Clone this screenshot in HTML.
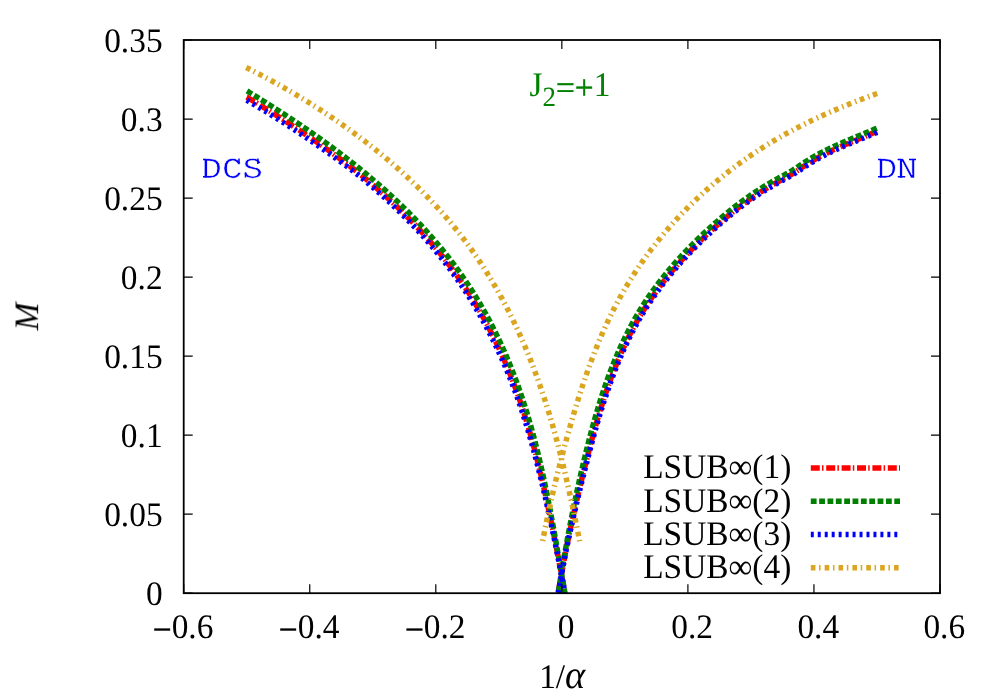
<!DOCTYPE html>
<html><head><meta charset="utf-8"><title>M vs 1/alpha</title>
<style>
html,body{margin:0;padding:0;background:#fff;}
body{width:1000px;height:700px;overflow:hidden;}
svg{display:block;font-family:"Liberation Serif",serif;text-rendering:geometricPrecision;}
</style></head><body>
<svg width="1000" height="700" viewBox="0 0 1000 700">
<rect width="1000" height="700" fill="#fff"/>
<g fill="none" stroke-width="5.5" stroke-linecap="butt" stroke-linejoin="round">
<path d="M246.70,97.10 L246.73,97.11 L247.99,97.87 L249.25,98.62 L250.51,99.38 L251.77,100.14 L253.03,100.90 L254.29,101.67 L255.55,102.43 L256.81,103.20 L258.07,103.97 L259.33,104.74 L260.59,105.51 L261.85,106.28 L263.10,107.06 L264.36,107.83 L265.62,108.61 L266.88,109.39 L268.14,110.17 L269.40,110.96 L270.65,111.74 L271.91,112.53 L273.17,113.32 L274.42,114.11 L275.68,114.90 L276.94,115.69 L278.19,116.49 L279.44,117.29 L280.70,118.09 L281.95,118.89 L283.20,119.69 L284.46,120.50 L285.71,121.30 L286.96,122.11 L288.21,122.92 L289.46,123.73 L290.71,124.55 L291.96,125.36 L293.20,126.18 L294.45,127.00 L295.69,127.82 L296.94,128.65 L298.18,129.47 L299.43,130.30 L300.67,131.13 L301.91,131.96 L303.15,132.80 L304.39,133.63 L305.63,134.47 L306.87,135.31 L308.10,136.15 L309.34,136.99 L310.57,137.84 L311.80,138.69 L313.04,139.54 L314.27,140.39 L315.50,141.24 L316.73,142.10 L317.95,142.96 L319.18,143.82 L320.40,144.68 L321.63,145.54 L322.86,146.40 L324.08,147.26 L325.30,148.13 L326.53,148.99 L327.75,149.86 L328.97,150.73 L330.18,151.61 L331.40,152.48 L332.62,153.36 L333.83,154.24 L335.04,155.12 L336.25,156.01 L337.46,156.89 L338.67,157.78 L339.87,158.67 L341.08,159.57 L342.28,160.46 L343.48,161.36 L344.68,162.26 L345.88,163.16 L347.07,164.07 L348.27,164.97 L349.46,165.88 L350.65,166.80 L351.84,167.71 L353.02,168.63 L354.21,169.54 L355.39,170.46 L356.57,171.39 L357.75,172.31 L358.93,173.24 L360.10,174.17 L361.26,175.12 L362.42,176.08 L363.57,177.03 L364.72,177.99 L365.87,178.95 L367.02,179.91 L368.17,180.87 L369.31,181.84 L370.45,182.81 L371.59,183.78 L372.72,184.76 L373.86,185.73 L374.99,186.71 L376.12,187.69 L377.24,188.68 L378.37,189.66 L379.49,190.65 L380.61,191.64 L381.73,192.64 L382.84,193.64 L383.95,194.63 L385.06,195.64 L386.17,196.64 L387.27,197.65 L388.37,198.66 L389.47,199.67 L390.56,200.68 L391.66,201.70 L392.75,202.72 L393.83,203.74 L394.92,204.77 L396.00,205.80 L397.08,206.83 L398.15,207.86 L399.23,208.90 L400.29,209.93 L401.36,210.98 L402.43,212.02 L403.49,213.07 L404.54,214.11 L405.60,215.17 L406.65,216.22 L407.70,217.28 L408.74,218.34 L409.79,219.40 L410.82,220.47 L411.86,221.54 L412.89,222.61 L413.92,223.68 L414.95,224.76 L415.97,225.84 L416.99,226.92 L418.01,228.00 L419.02,229.09 L420.03,230.18 L421.03,231.27 L422.04,232.37 L423.04,233.47 L424.03,234.57 L425.02,235.68 L426.01,236.78 L427.00,237.89 L427.98,239.01 L428.96,240.12 L429.93,241.24 L430.90,242.37 L431.87,243.49 L432.83,244.62 L433.79,245.75 L434.75,246.88 L435.70,248.02 L436.65,249.16 L437.59,250.30 L438.53,251.45 L439.47,252.60 L440.40,253.75 L441.33,254.90 L442.26,256.06 L443.18,257.22 L444.09,258.39 L445.01,259.55 L445.92,260.72 L446.82,261.90 L447.72,263.07 L448.62,264.25 L449.51,265.43 L450.40,266.62 L451.29,267.81 L452.17,269.00 L453.05,270.19 L453.92,271.39 L454.79,272.59 L455.66,273.79 L456.52,274.99 L457.38,276.20 L458.24,277.41 L459.09,278.62 L459.94,279.83 L460.78,281.05 L461.62,282.27 L462.46,283.49 L463.29,284.72 L464.11,285.95 L464.94,287.18 L465.75,288.42 L466.57,289.65 L467.38,290.89 L468.18,292.14 L468.98,293.38 L469.78,294.63 L470.57,295.89 L471.36,297.14 L472.14,298.40 L472.92,299.66 L473.70,300.92 L474.47,302.19 L475.23,303.46 L475.99,304.73 L476.75,306.00 L477.50,307.28 L478.25,308.56 L478.99,309.84 L479.73,311.12 L480.47,312.41 L481.20,313.70 L481.92,315.00 L482.64,316.29 L483.36,317.59 L484.07,318.89 L484.78,320.19 L485.48,321.50 L486.18,322.81 L486.88,324.12 L487.57,325.43 L488.26,326.75 L488.94,328.07 L489.62,329.39 L490.29,330.71 L490.96,332.04 L491.64,333.36 L492.31,334.69 L492.98,336.01 L493.64,337.34 L494.30,338.68 L494.96,340.01 L495.61,341.35 L496.26,342.69 L496.90,344.03 L497.54,345.37 L498.17,346.72 L498.80,348.06 L499.43,349.41 L500.05,350.77 L500.67,352.12 L501.29,353.48 L501.90,354.84 L502.50,356.20 L503.11,357.56 L503.71,358.92 L504.30,360.29 L504.89,361.66 L505.48,363.03 L506.06,364.40 L506.64,365.78 L507.22,367.15 L507.79,368.53 L508.36,369.91 L508.92,371.29 L509.48,372.67 L510.04,374.06 L510.59,375.45 L511.14,376.84 L511.69,378.23 L512.23,379.62 L512.76,381.01 L513.30,382.41 L513.83,383.80 L514.36,385.20 L514.88,386.60 L515.40,388.00 L515.91,389.40 L516.43,390.81 L516.94,392.21 L517.44,393.62 L517.94,395.03 L518.44,396.44 L518.93,397.85 L519.43,399.26 L519.91,400.68 L520.40,402.09 L520.88,403.51 L521.35,404.93 L521.83,406.35 L522.30,407.77 L522.76,409.19 L523.22,410.61 L523.68,412.03 L524.14,413.46 L524.59,414.89 L525.04,416.31 L525.49,417.74 L525.93,419.17 L526.37,420.60 L526.81,422.04 L527.24,423.47 L527.67,424.90 L528.10,426.34 L528.52,427.77 L528.94,429.21 L529.36,430.65 L529.78,432.09 L530.19,433.53 L530.60,434.97 L531.00,436.41 L531.41,437.86 L531.81,439.30 L532.21,440.75 L532.60,442.19 L532.99,443.64 L533.38,445.09 L533.77,446.54 L534.16,447.99 L534.54,449.44 L534.92,450.89 L535.29,452.34 L535.67,453.79 L536.04,455.25 L536.41,456.70 L536.78,458.16 L537.14,459.61 L537.51,461.07 L537.88,462.52 L538.24,463.98 L538.60,465.44 L538.96,466.89 L539.32,468.35 L539.68,469.81 L540.03,471.27 L540.39,472.73 L540.74,474.19 L541.08,475.65 L541.43,477.11 L541.77,478.57 L542.12,480.04 L542.46,481.50 L542.80,482.96 L543.13,484.43 L543.47,485.89 L543.80,487.36 L544.13,488.82 L544.46,490.29 L544.79,491.75 L545.12,493.22 L545.44,494.69 L545.76,496.15 L546.08,497.62 L546.40,499.09 L546.72,500.56 L547.04,502.02 L547.36,503.49 L547.67,504.96 L547.98,506.43 L548.29,507.90 L548.60,509.37 L548.91,510.84 L549.22,512.31 L549.53,513.78 L549.84,515.25 L550.15,516.72 L550.45,518.18 L550.76,519.65 L551.06,521.12 L551.36,522.59 L551.66,524.06 L551.97,525.53 L552.26,527.00 L552.56,528.47 L552.86,529.94 L553.16,531.41 L553.45,532.88 L553.75,534.35 L554.04,535.82 L554.34,537.29 L554.63,538.76 L554.92,540.23 L555.21,541.70 L555.50,543.17 L555.79,544.63 L556.08,546.10 L556.37,547.57 L556.66,549.04 L556.95,550.51 L557.22,551.98 L557.50,553.44 L557.78,554.91 L558.05,556.38 L558.33,557.85 L558.61,559.32 L558.88,560.78 L559.16,562.25 L559.43,563.72 L559.71,565.18 L559.98,566.65 L560.26,568.11 L560.53,569.58 L560.81,571.04 L561.08,572.50 L561.36,573.97 L561.63,575.43 L561.91,576.89 L562.18,578.35 L562.46,579.81 L562.73,581.27 L563.01,582.73 L563.28,584.19 L563.56,585.65 L563.84,587.10 L564.11,588.56 L564.39,590.02 L564.67,591.47 L564.95,592.93" stroke="#ff0000" stroke-dasharray="9 2.2 1.5 2.7"/>
<path d="M877.00,131.28 L876.59,131.46 L875.20,132.07 L873.81,132.67 L872.42,133.26 L871.03,133.85 L869.64,134.44 L868.25,135.02 L866.86,135.60 L865.47,136.18 L864.08,136.76 L862.69,137.33 L861.30,137.90 L859.92,138.48 L858.53,139.05 L857.14,139.62 L855.76,140.19 L854.37,140.76 L852.99,141.34 L851.61,141.91 L850.23,142.49 L848.85,143.07 L847.47,143.65 L846.09,144.23 L844.72,144.82 L843.35,145.41 L841.98,146.01 L840.61,146.61 L839.25,147.21 L837.88,147.82 L836.52,148.44 L835.16,149.06 L833.81,149.69 L832.45,150.32 L831.11,150.96 L829.76,151.61 L828.42,152.26 L827.08,152.92 L825.75,153.59 L824.42,154.26 L823.10,154.95 L821.78,155.64 L820.47,156.33 L819.16,157.04 L817.87,157.75 L816.57,158.47 L815.29,159.20 L814.01,159.94 L812.74,160.69 L811.48,161.44 L810.23,162.21 L808.99,162.98 L807.75,163.76 L806.52,164.56 L805.30,165.36 L804.07,166.17 L802.85,166.99 L801.62,167.81 L800.39,168.64 L799.15,169.46 L797.91,170.28 L796.65,171.10 L795.39,171.90 L794.12,172.70 L792.83,173.49 L791.53,174.26 L790.23,175.01 L788.92,175.75 L787.62,176.48 L786.31,177.20 L785.00,177.92 L783.69,178.64 L782.38,179.36 L781.07,180.08 L779.75,180.80 L778.44,181.52 L777.13,182.24 L775.82,182.97 L774.52,183.70 L773.22,184.43 L771.92,185.17 L770.63,185.92 L769.35,186.67 L768.07,187.43 L766.80,188.19 L765.53,188.96 L764.26,189.74 L763.00,190.52 L761.75,191.31 L760.49,192.11 L759.25,192.91 L758.00,193.72 L756.76,194.53 L755.53,195.35 L754.30,196.18 L753.07,197.01 L751.85,197.85 L750.63,198.69 L749.42,199.54 L748.21,200.39 L747.01,201.25 L745.80,202.12 L744.61,202.99 L743.41,203.87 L742.22,204.75 L741.04,205.64 L739.86,206.53 L738.68,207.43 L737.50,208.34 L736.33,209.25 L735.17,210.16 L734.00,211.08 L732.84,212.00 L731.68,212.93 L730.53,213.87 L729.38,214.81 L728.23,215.75 L727.09,216.70 L725.94,217.65 L724.81,218.61 L723.67,219.57 L722.54,220.53 L721.41,221.50 L720.28,222.48 L719.16,223.46 L718.04,224.44 L716.92,225.42 L715.81,226.42 L714.69,227.41 L713.58,228.41 L712.48,229.41 L711.37,230.42 L710.27,231.43 L709.17,232.44 L708.07,233.46 L706.98,234.48 L705.89,235.51 L704.80,236.53 L703.71,237.57 L702.63,238.60 L701.55,239.64 L700.48,240.68 L699.40,241.73 L698.33,242.78 L697.27,243.83 L696.21,244.89 L695.15,245.95 L694.09,247.02 L693.04,248.09 L691.99,249.16 L690.95,250.23 L689.90,251.31 L688.87,252.39 L687.83,253.48 L686.81,254.57 L685.78,255.66 L684.76,256.76 L683.74,257.86 L682.73,258.97 L681.72,260.07 L680.71,261.19 L679.71,262.30 L678.72,263.42 L677.73,264.54 L676.74,265.67 L675.75,266.80 L674.78,267.93 L673.80,269.07 L672.83,270.21 L671.87,271.35 L670.91,272.50 L669.96,273.65 L669.01,274.80 L668.06,275.96 L667.12,277.12 L666.19,278.29 L665.26,279.45 L664.33,280.63 L663.41,281.80 L662.50,282.98 L661.59,284.16 L660.69,285.35 L659.79,286.54 L658.90,287.73 L658.01,288.93 L657.13,290.13 L656.26,291.33 L655.39,292.54 L654.52,293.75 L653.66,294.97 L652.81,296.18 L651.97,297.40 L651.13,298.63 L650.29,299.86 L649.46,301.09 L648.64,302.32 L647.82,303.56 L647.01,304.80 L646.20,306.04 L645.40,307.29 L644.60,308.54 L643.82,309.79 L643.03,311.05 L642.26,312.31 L641.49,313.58 L640.73,314.85 L639.97,316.12 L639.22,317.39 L638.48,318.67 L637.74,319.95 L637.01,321.24 L636.28,322.53 L635.56,323.82 L634.85,325.12 L634.14,326.42 L633.44,327.72 L632.74,329.03 L632.05,330.34 L631.36,331.65 L630.68,332.96 L630.01,334.28 L629.34,335.60 L628.68,336.93 L628.02,338.26 L627.37,339.59 L626.72,340.92 L626.08,342.26 L625.44,343.60 L624.81,344.94 L624.19,346.28 L623.57,347.63 L622.95,348.98 L622.34,350.33 L621.74,351.69 L621.14,353.05 L620.54,354.41 L619.95,355.77 L619.36,357.14 L618.78,358.51 L618.21,359.88 L617.64,361.25 L617.07,362.63 L616.51,364.01 L615.95,365.39 L615.40,366.77 L614.85,368.16 L614.31,369.54 L613.77,370.93 L613.23,372.32 L612.70,373.72 L612.17,375.11 L611.65,376.51 L611.13,377.91 L610.62,379.32 L610.11,380.72 L609.60,382.13 L609.10,383.53 L608.60,384.94 L608.11,386.35 L607.61,387.77 L607.12,389.18 L606.63,390.59 L606.14,392.01 L605.66,393.42 L605.18,394.84 L604.70,396.26 L604.23,397.69 L603.76,399.11 L603.29,400.53 L602.83,401.96 L602.37,403.39 L601.92,404.82 L601.46,406.25 L601.01,407.68 L600.57,409.11 L600.12,410.55 L599.68,411.99 L599.25,413.42 L598.81,414.86 L598.38,416.30 L597.96,417.74 L597.53,419.18 L597.11,420.62 L596.69,422.07 L596.27,423.51 L595.86,424.96 L595.45,426.40 L595.04,427.85 L594.63,429.30 L594.23,430.75 L593.83,432.19 L593.43,433.64 L593.03,435.10 L592.64,436.55 L592.25,438.00 L591.86,439.45 L591.47,440.90 L591.09,442.36 L590.70,443.81 L590.32,445.26 L589.94,446.72 L589.57,448.17 L589.19,449.63 L588.82,451.08 L588.45,452.54 L588.08,453.99 L587.71,455.45 L587.35,456.91 L586.98,458.36 L586.62,459.82 L586.25,461.27 L585.88,462.72 L585.51,464.18 L585.14,465.63 L584.77,467.08 L584.40,468.53 L584.03,469.99 L583.67,471.44 L583.31,472.89 L582.94,474.34 L582.58,475.80 L582.23,477.25 L581.87,478.70 L581.51,480.15 L581.16,481.61 L580.81,483.06 L580.46,484.51 L580.11,485.97 L579.76,487.42 L579.41,488.87 L579.07,490.33 L578.73,491.78 L578.38,493.24 L578.04,494.69 L577.70,496.14 L577.37,497.60 L577.03,499.05 L576.69,500.51 L576.36,501.97 L576.03,503.42 L575.70,504.88 L575.37,506.34 L575.04,507.79 L574.71,509.25 L574.38,510.71 L574.05,512.16 L573.73,513.62 L573.40,515.08 L573.07,516.54 L572.75,518.00 L572.43,519.45 L572.11,520.91 L571.79,522.37 L571.47,523.83 L571.15,525.30 L570.84,526.76 L570.52,528.22 L570.21,529.68 L569.89,531.14 L569.58,532.61 L569.27,534.07 L568.97,535.54 L568.66,537.00 L568.35,538.47 L568.05,539.93 L567.74,541.40 L567.44,542.87 L567.14,544.34 L566.84,545.81 L566.54,547.28 L566.24,548.75 L565.95,550.22 L565.66,551.69 L565.38,553.16 L565.10,554.64 L564.82,556.12 L564.54,557.59 L564.26,559.07 L563.98,560.55 L563.71,562.03 L563.43,563.51 L563.16,564.99 L562.89,566.47 L562.62,567.95 L562.35,569.43 L562.08,570.92 L561.81,572.40 L561.54,573.89 L561.27,575.37 L561.01,576.86 L560.75,578.35 L560.48,579.84 L560.22,581.33 L559.96,582.82 L559.70,584.31 L559.44,585.80 L559.18,587.29 L558.93,588.79 L558.67,590.28 L558.42,591.78 L558.16,593.28" stroke="#ff0000" stroke-dasharray="9 2.2 1.5 2.7"/>
<path d="M247.03,90.95 L248.29,91.72 L249.54,92.48 L250.80,93.25 L252.06,94.02 L253.32,94.79 L254.58,95.56 L255.84,96.34 L257.10,97.11 L258.35,97.89 L259.61,98.67 L260.87,99.45 L262.13,100.23 L263.39,101.02 L264.65,101.81 L265.90,102.59 L267.16,103.38 L268.42,104.17 L269.67,104.97 L270.93,105.76 L272.19,106.56 L273.44,107.36 L274.70,108.16 L275.95,108.96 L277.21,109.76 L278.46,110.57 L279.72,111.38 L280.97,112.19 L282.22,113.00 L283.48,113.81 L284.73,114.63 L285.98,115.44 L287.23,116.26 L288.48,117.08 L289.73,117.91 L290.98,118.73 L292.23,119.56 L293.48,120.38 L294.72,121.21 L295.97,122.05 L297.21,122.88 L298.46,123.72 L299.70,124.56 L300.94,125.40 L302.19,126.24 L303.43,127.08 L304.67,127.93 L305.91,128.78 L307.14,129.63 L308.38,130.48 L309.62,131.33 L310.85,132.19 L312.09,133.05 L313.32,133.91 L314.55,134.77 L315.78,135.63 L317.01,136.50 L318.24,137.37 L319.47,138.24 L320.69,139.11 L321.92,139.99 L323.14,140.87 L324.36,141.74 L325.58,142.63 L326.80,143.51 L328.02,144.40 L329.24,145.28 L330.45,146.17 L331.67,147.07 L332.88,147.96 L334.09,148.86 L335.30,149.76 L336.51,150.66 L337.71,151.56 L338.92,152.47 L340.12,153.37 L341.32,154.29 L342.52,155.20 L343.72,156.11 L344.92,157.03 L346.11,157.95 L347.30,158.87 L348.49,159.79 L349.68,160.72 L350.87,161.65 L352.06,162.58 L353.24,163.51 L354.42,164.45 L355.60,165.39 L356.78,166.33 L357.96,167.27 L359.13,168.22 L360.30,169.16 L361.47,170.11 L362.64,171.07 L363.80,172.02 L364.97,172.98 L366.13,173.94 L367.29,174.90 L368.45,175.87 L369.60,176.83 L370.75,177.80 L371.90,178.77 L373.05,179.75 L374.20,180.73 L375.34,181.71 L376.48,182.69 L377.62,183.67 L378.76,184.66 L379.89,185.65 L381.02,186.64 L382.15,187.64 L383.28,188.64 L384.40,189.64 L385.53,190.64 L386.65,191.64 L387.76,192.65 L388.88,193.66 L389.99,194.67 L391.10,195.69 L392.20,196.71 L393.31,197.73 L394.41,198.75 L395.50,199.78 L396.60,200.81 L397.69,201.84 L398.78,202.88 L399.87,203.91 L400.95,204.95 L402.03,206.00 L403.11,207.04 L404.18,208.09 L405.26,209.14 L406.33,210.19 L407.39,211.25 L408.45,212.31 L409.51,213.37 L410.57,214.44 L411.62,215.50 L412.68,216.57 L413.72,217.65 L414.77,218.72 L415.81,219.80 L416.85,220.88 L417.88,221.97 L418.91,223.05 L419.94,224.14 L420.96,225.24 L421.99,226.33 L423.00,227.43 L424.02,228.53 L425.03,229.64 L426.04,230.75 L427.04,231.86 L428.04,232.97 L429.04,234.09 L430.03,235.21 L431.02,236.33 L432.01,237.45 L432.99,238.58 L433.97,239.71 L434.95,240.85 L435.92,241.99 L436.89,243.13 L437.86,244.27 L438.82,245.42 L439.77,246.56 L440.73,247.72 L441.68,248.87 L442.62,250.03 L443.56,251.19 L444.50,252.36 L445.44,253.53 L446.37,254.70 L447.29,255.87 L448.22,257.05 L449.13,258.23 L450.05,259.41 L450.96,260.60 L451.86,261.79 L452.77,262.98 L453.67,264.18 L454.56,265.37 L455.45,266.58 L456.34,267.78 L457.22,268.99 L458.09,270.20 L458.97,271.41 L459.84,272.63 L460.70,273.85 L461.56,275.07 L462.42,276.30 L463.27,277.53 L464.12,278.76 L464.96,279.99 L465.80,281.23 L466.64,282.47 L467.47,283.71 L468.30,284.96 L469.12,286.21 L469.94,287.46 L470.75,288.72 L471.56,289.97 L472.37,291.23 L473.17,292.50 L473.96,293.76 L474.75,295.03 L475.54,296.30 L476.32,297.58 L477.10,298.86 L477.87,300.14 L478.64,301.42 L479.41,302.70 L480.17,303.99 L480.92,305.28 L481.67,306.58 L482.42,307.87 L483.16,309.17 L483.90,310.48 L484.63,311.78 L485.36,313.09 L486.09,314.40 L486.80,315.71 L487.52,317.02 L488.23,318.34 L488.94,319.66 L489.64,320.98 L490.34,322.31 L491.03,323.64 L491.72,324.97 L492.40,326.30 L493.08,327.63 L493.76,328.97 L494.43,330.31 L495.09,331.65 L495.76,332.99 L496.42,334.34 L497.07,335.69 L497.72,337.04 L498.37,338.39 L499.01,339.74 L499.64,341.10 L500.28,342.46 L500.91,343.82 L501.53,345.18 L502.15,346.55 L502.77,347.92 L503.38,349.29 L503.99,350.66 L504.59,352.03 L505.19,353.40 L505.79,354.78 L506.38,356.16 L506.97,357.54 L507.55,358.92 L508.13,360.31 L508.71,361.70 L509.28,363.08 L509.85,364.47 L510.41,365.87 L510.97,367.26 L511.53,368.65 L512.08,370.05 L512.62,371.45 L513.17,372.85 L513.71,374.25 L514.25,375.65 L514.78,377.06 L515.31,378.47 L515.83,379.87 L516.35,381.28 L516.87,382.69 L517.38,384.11 L517.89,385.52 L518.40,386.93 L518.90,388.35 L519.40,389.77 L519.89,391.19 L520.38,392.61 L520.87,394.03 L521.35,395.45 L521.83,396.88 L522.31,398.31 L522.78,399.73 L523.25,401.16 L523.71,402.59 L524.17,404.02 L524.63,405.45 L525.09,406.88 L525.54,408.32 L525.98,409.75 L526.43,411.19 L526.87,412.63 L527.31,414.07 L527.74,415.50 L528.17,416.94 L528.60,418.39 L529.02,419.83 L529.44,421.27 L529.86,422.72 L530.27,424.16 L530.68,425.61 L531.09,427.05 L531.49,428.50 L531.90,429.95 L532.29,431.40 L532.69,432.85 L533.08,434.30 L533.47,435.75 L533.86,437.21 L534.24,438.66 L534.63,440.12 L535.00,441.57 L535.38,443.03 L535.75,444.49 L536.12,445.94 L536.49,447.40 L536.85,448.86 L537.22,450.32 L537.58,451.78 L537.93,453.24 L538.29,454.70 L538.64,456.17 L538.99,457.63 L539.34,459.09 L539.68,460.56 L540.03,462.02 L540.37,463.49 L540.70,464.95 L541.04,466.42 L541.37,467.89 L541.70,469.35 L542.03,470.82 L542.36,472.29 L542.69,473.76 L543.01,475.23 L543.33,476.70 L543.65,478.17 L543.96,479.64 L544.28,481.11 L544.59,482.58 L544.90,484.05 L545.21,485.53 L545.52,487.00 L545.83,488.47 L546.13,489.94 L546.43,491.42 L546.73,492.89 L547.03,494.36 L547.33,495.84 L547.62,497.31 L547.92,498.79 L548.21,500.26 L548.50,501.74 L548.79,503.21 L549.08,504.69 L549.37,506.16 L549.65,507.64 L549.94,509.11 L550.22,510.59 L550.50,512.06 L550.78,513.54 L551.06,515.02 L551.34,516.49 L551.62,517.97 L551.89,519.44 L552.17,520.92 L552.44,522.39 L552.71,523.87 L552.98,525.35 L553.25,526.82 L553.52,528.30 L553.79,529.77 L554.06,531.25 L554.33,532.72 L554.59,534.20 L554.86,535.67 L555.12,537.15 L555.39,538.62 L555.65,540.10 L555.91,541.57 L556.17,543.05 L556.44,544.52 L556.70,545.99 L556.96,547.47 L557.22,548.94 L557.48,550.41 L557.74,551.89 L558.00,553.36 L558.25,554.83 L558.51,556.30 L558.77,557.77 L559.03,559.24 L559.28,560.71 L559.54,562.18 L559.80,563.65 L560.05,565.12 L560.31,566.59 L560.57,568.06 L560.82,569.52 L561.08,570.99 L561.34,572.46 L561.59,573.92 L561.85,575.39 L562.11,576.85 L562.37,578.32 L562.62,579.78 L562.88,581.24 L563.14,582.71 L563.40,584.17 L563.65,585.63 L563.91,587.09 L564.17,588.55 L564.43,590.01 L564.69,591.47 L564.95,592.93" stroke="#008000" stroke-dasharray="5.8 2.55"/>
<path d="M876.80,128.18 L875.42,128.78 L874.04,129.38 L872.66,129.98 L871.27,130.57 L869.89,131.16 L868.51,131.74 L867.12,132.32 L865.73,132.90 L864.35,133.48 L862.96,134.05 L861.58,134.63 L860.19,135.20 L858.80,135.77 L857.41,136.34 L856.03,136.92 L854.64,137.49 L853.25,138.06 L851.87,138.64 L850.48,139.21 L849.10,139.79 L847.71,140.37 L846.33,140.96 L844.95,141.54 L843.57,142.13 L842.19,142.73 L840.81,143.33 L839.43,143.93 L838.06,144.54 L836.68,145.16 L835.31,145.78 L833.94,146.40 L832.57,147.04 L831.21,147.68 L829.84,148.32 L828.49,148.98 L827.13,149.64 L825.78,150.30 L824.43,150.98 L823.09,151.66 L821.75,152.35 L820.42,153.05 L819.09,153.76 L817.77,154.47 L816.45,155.19 L815.14,155.93 L813.84,156.67 L812.54,157.41 L811.25,158.17 L809.97,158.94 L808.70,159.72 L807.43,160.50 L806.17,161.30 L804.93,162.11 L803.69,162.92 L802.45,163.74 L801.22,164.56 L799.99,165.38 L798.76,166.20 L797.53,167.02 L796.30,167.83 L795.07,168.64 L793.83,169.43 L792.58,170.22 L791.32,170.98 L790.05,171.73 L788.78,172.47 L787.49,173.20 L786.20,173.92 L784.90,174.64 L783.60,175.36 L782.29,176.07 L780.98,176.79 L779.66,177.51 L778.35,178.23 L777.03,178.95 L775.71,179.68 L774.40,180.41 L773.09,181.15 L771.77,181.89 L770.47,182.64 L769.16,183.39 L767.87,184.15 L766.57,184.91 L765.29,185.69 L764.00,186.46 L762.72,187.25 L761.45,188.04 L760.18,188.84 L758.92,189.64 L757.66,190.45 L756.40,191.27 L755.15,192.09 L753.91,192.92 L752.66,193.75 L751.43,194.59 L750.19,195.44 L748.96,196.29 L747.74,197.14 L746.52,198.01 L745.30,198.87 L744.09,199.75 L742.88,200.63 L741.68,201.51 L740.47,202.40 L739.28,203.29 L738.08,204.19 L736.90,205.10 L735.71,206.01 L734.53,206.92 L733.35,207.84 L732.17,208.77 L731.00,209.70 L729.84,210.63 L728.67,211.57 L727.51,212.52 L726.35,213.47 L725.20,214.42 L724.05,215.38 L722.90,216.34 L721.76,217.31 L720.61,218.28 L719.48,219.25 L718.34,220.23 L717.21,221.21 L716.08,222.20 L714.95,223.19 L713.83,224.19 L712.71,225.19 L711.59,226.19 L710.47,227.20 L709.36,228.21 L708.25,229.22 L707.14,230.24 L706.03,231.26 L704.93,232.29 L703.83,233.32 L702.74,234.35 L701.64,235.39 L700.55,236.43 L699.46,237.47 L698.38,238.52 L697.30,239.57 L696.22,240.63 L695.15,241.69 L694.07,242.75 L693.01,243.82 L691.94,244.89 L690.88,245.96 L689.82,247.04 L688.77,248.12 L687.72,249.20 L686.67,250.29 L685.63,251.39 L684.59,252.48 L683.56,253.58 L682.53,254.68 L681.50,255.79 L680.48,256.90 L679.46,258.02 L678.44,259.13 L677.43,260.26 L676.43,261.38 L675.43,262.51 L674.43,263.64 L673.44,264.78 L672.45,265.92 L671.47,267.06 L670.49,268.21 L669.51,269.36 L668.54,270.52 L667.58,271.68 L666.62,272.84 L665.67,274.00 L664.72,275.17 L663.77,276.35 L662.83,277.52 L661.90,278.71 L660.97,279.89 L660.04,281.08 L659.12,282.27 L658.21,283.46 L657.30,284.66 L656.40,285.87 L655.50,287.07 L654.61,288.28 L653.73,289.50 L652.85,290.71 L651.97,291.93 L651.10,293.16 L650.24,294.39 L649.38,295.62 L648.53,296.85 L647.69,298.09 L646.85,299.33 L646.02,300.58 L645.19,301.83 L644.37,303.08 L643.56,304.34 L642.75,305.60 L641.95,306.87 L641.15,308.14 L640.37,309.41 L639.59,310.68 L638.81,311.96 L638.04,313.24 L637.28,314.53 L636.52,315.82 L635.77,317.11 L635.03,318.41 L634.29,319.71 L633.56,321.01 L632.84,322.32 L632.12,323.63 L631.41,324.94 L630.70,326.26 L630.00,327.58 L629.30,328.90 L628.61,330.22 L627.93,331.55 L627.25,332.88 L626.58,334.22 L625.91,335.56 L625.25,336.90 L624.59,338.24 L623.94,339.58 L623.30,340.93 L622.66,342.29 L622.03,343.64 L621.40,345.00 L620.77,346.36 L620.16,347.72 L619.54,349.08 L618.94,350.45 L618.33,351.82 L617.74,353.19 L617.14,354.57 L616.56,355.95 L615.97,357.33 L615.39,358.71 L614.82,360.09 L614.25,361.48 L613.69,362.87 L613.13,364.26 L612.58,365.65 L612.03,367.05 L611.48,368.45 L610.94,369.85 L610.40,371.25 L609.87,372.65 L609.34,374.06 L608.82,375.47 L608.30,376.88 L607.79,378.29 L607.28,379.70 L606.77,381.12 L606.27,382.53 L605.77,383.95 L605.27,385.37 L604.78,386.79 L604.30,388.22 L603.81,389.64 L603.34,391.07 L602.86,392.50 L602.39,393.93 L601.92,395.36 L601.46,396.79 L601.00,398.23 L600.54,399.66 L600.09,401.10 L599.64,402.54 L599.19,403.98 L598.75,405.42 L598.31,406.86 L597.87,408.30 L597.44,409.75 L597.00,411.19 L596.58,412.64 L596.15,414.08 L595.73,415.53 L595.31,416.98 L594.90,418.43 L594.49,419.88 L594.08,421.33 L593.67,422.79 L593.27,424.24 L592.86,425.69 L592.47,427.15 L592.07,428.60 L591.68,430.06 L591.29,431.52 L590.90,432.97 L590.51,434.43 L590.13,435.89 L589.75,437.35 L589.37,438.81 L588.99,440.26 L588.62,441.72 L588.24,443.18 L587.87,444.64 L587.51,446.11 L587.14,447.57 L586.78,449.03 L586.41,450.49 L586.05,451.95 L585.70,453.41 L585.34,454.87 L584.98,456.33 L584.63,457.79 L584.28,459.26 L583.93,460.72 L583.58,462.18 L583.24,463.64 L582.89,465.10 L582.55,466.56 L582.21,468.02 L581.86,469.48 L581.53,470.94 L581.19,472.40 L580.85,473.86 L580.52,475.32 L580.19,476.78 L579.86,478.25 L579.53,479.71 L579.20,481.17 L578.87,482.63 L578.55,484.09 L578.22,485.55 L577.90,487.01 L577.58,488.47 L577.26,489.93 L576.94,491.39 L576.63,492.86 L576.31,494.32 L576.00,495.78 L575.69,497.24 L575.38,498.70 L575.07,500.17 L574.76,501.63 L574.45,503.09 L574.15,504.56 L573.85,506.02 L573.54,507.48 L573.24,508.95 L572.94,510.41 L572.65,511.88 L572.35,513.34 L572.05,514.81 L571.76,516.27 L571.47,517.74 L571.18,519.21 L570.89,520.67 L570.60,522.14 L570.31,523.61 L570.03,525.08 L569.74,526.55 L569.46,528.01 L569.18,529.48 L568.89,530.95 L568.61,532.42 L568.34,533.89 L568.06,535.37 L567.78,536.84 L567.51,538.31 L567.24,539.78 L566.96,541.26 L566.69,542.73 L566.42,544.21 L566.16,545.68 L565.89,547.16 L565.62,548.63 L565.36,550.11 L565.09,551.59 L564.83,553.07 L564.57,554.55 L564.31,556.03 L564.05,557.51 L563.79,558.99 L563.54,560.47 L563.28,561.95 L563.03,563.44 L562.77,564.92 L562.52,566.41 L562.27,567.89 L562.02,569.38 L561.77,570.86 L561.52,572.35 L561.28,573.84 L561.03,575.33 L560.79,576.82 L560.54,578.31 L560.30,579.81 L560.06,581.30 L559.82,582.79 L559.58,584.29 L559.34,585.78 L559.10,587.28 L558.87,588.78 L558.63,590.28 L558.40,591.78 L558.16,593.28" stroke="#008000" stroke-dasharray="5.8 2.55"/>
<path d="M246.70,100.06 L247.92,100.79 L249.18,101.54 L250.44,102.29 L251.70,103.05 L252.96,103.81 L254.23,104.57 L255.49,105.33 L256.75,106.09 L258.01,106.85 L259.27,107.62 L260.53,108.39 L261.79,109.15 L263.05,109.93 L264.31,110.70 L265.57,111.47 L266.82,112.25 L268.08,113.02 L269.34,113.80 L270.60,114.58 L271.86,115.37 L273.11,116.15 L274.37,116.94 L275.63,117.72 L276.88,118.51 L278.14,119.30 L279.39,120.10 L280.64,120.89 L281.90,121.69 L283.15,122.49 L284.40,123.29 L285.65,124.09 L286.90,124.89 L288.15,125.70 L289.40,126.51 L290.65,127.32 L291.90,128.13 L293.15,128.94 L294.39,129.76 L295.64,130.57 L296.88,131.39 L298.13,132.21 L299.37,133.04 L300.61,133.86 L301.85,134.69 L303.09,135.52 L304.33,136.35 L305.57,137.18 L306.81,138.02 L308.04,138.85 L309.28,139.69 L310.51,140.53 L311.74,141.37 L312.98,142.22 L314.21,143.06 L315.43,143.91 L316.66,144.76 L317.89,145.62 L319.11,146.47 L320.34,147.32 L321.57,148.17 L322.80,149.03 L324.03,149.88 L325.25,150.74 L326.47,151.60 L327.69,152.46 L328.92,153.32 L330.13,154.19 L331.35,155.06 L332.57,155.93 L333.78,156.80 L335.00,157.67 L336.21,158.55 L337.42,159.43 L338.63,160.31 L339.83,161.19 L341.04,162.08 L342.24,162.97 L343.44,163.86 L344.64,164.75 L345.84,165.64 L347.04,166.54 L348.23,167.44 L349.43,168.34 L350.62,169.24 L351.81,170.15 L353.00,171.06 L354.18,171.97 L355.37,172.88 L356.55,173.80 L357.73,174.71 L358.91,175.63 L360.06,176.58 L361.21,177.53 L362.36,178.49 L363.51,179.44 L364.66,180.40 L365.80,181.36 L366.95,182.32 L368.09,183.28 L369.22,184.25 L370.36,185.22 L371.49,186.19 L372.62,187.16 L373.75,188.14 L374.88,189.12 L376.00,190.10 L377.12,191.09 L378.24,192.07 L379.35,193.06 L380.47,194.05 L381.58,195.05 L382.68,196.04 L383.79,197.04 L384.89,198.04 L385.99,199.05 L387.09,200.05 L388.18,201.06 L389.27,202.07 L390.36,203.09 L391.45,204.11 L392.53,205.13 L393.61,206.15 L394.69,207.17 L395.76,208.20 L396.84,209.23 L397.90,210.26 L398.97,211.30 L400.03,212.33 L401.09,213.37 L402.15,214.42 L403.20,215.46 L404.25,216.51 L405.30,217.56 L406.35,218.62 L407.39,219.67 L408.43,220.73 L409.46,221.79 L410.49,222.86 L411.52,223.93 L412.55,225.00 L413.57,226.07 L414.59,227.14 L415.60,228.22 L416.61,229.30 L417.62,230.39 L418.63,231.47 L419.63,232.56 L420.63,233.66 L421.62,234.75 L422.61,235.85 L423.60,236.95 L424.59,238.05 L425.57,239.16 L426.55,240.27 L427.52,241.38 L428.49,242.50 L429.46,243.61 L430.42,244.73 L431.38,245.86 L432.33,246.98 L433.28,248.11 L434.23,249.25 L435.18,250.38 L436.12,251.52 L437.05,252.66 L437.98,253.81 L438.91,254.95 L439.84,256.10 L440.76,257.26 L441.68,258.41 L442.59,259.57 L443.50,260.73 L444.40,261.90 L445.30,263.07 L446.20,264.24 L447.09,265.41 L447.98,266.59 L448.87,267.77 L449.75,268.95 L450.62,270.14 L451.50,271.33 L452.37,272.52 L453.23,273.71 L454.10,274.90 L454.96,276.10 L455.82,277.30 L456.67,278.50 L457.52,279.71 L458.37,280.92 L459.21,282.13 L460.05,283.34 L460.88,284.56 L461.71,285.78 L462.53,287.00 L463.35,288.23 L464.17,289.45 L464.98,290.69 L465.79,291.92 L466.59,293.16 L467.39,294.40 L468.19,295.64 L468.98,296.88 L469.76,298.13 L470.54,299.38 L471.32,300.64 L472.09,301.89 L472.86,303.15 L473.63,304.41 L474.39,305.68 L475.14,306.95 L475.89,308.22 L476.64,309.49 L477.38,310.76 L478.12,312.04 L478.85,313.32 L479.58,314.61 L480.30,315.89 L481.02,317.18 L481.74,318.48 L482.45,319.77 L483.16,321.07 L483.86,322.37 L484.56,323.67 L485.25,324.97 L485.94,326.28 L486.63,327.59 L487.31,328.90 L487.99,330.22 L488.66,331.53 L489.33,332.85 L490.01,334.17 L490.69,335.48 L491.36,336.80 L492.03,338.12 L492.69,339.45 L493.35,340.77 L494.01,342.10 L494.66,343.43 L495.31,344.76 L495.95,346.10 L496.59,347.44 L497.23,348.78 L497.86,350.12 L498.49,351.46 L499.11,352.81 L499.73,354.16 L500.35,355.51 L500.96,356.86 L501.57,358.22 L502.17,359.57 L502.77,360.93 L503.37,362.29 L503.96,363.66 L504.55,365.02 L505.14,366.39 L505.72,367.76 L506.29,369.13 L506.87,370.50 L507.44,371.88 L508.00,373.25 L508.57,374.63 L509.13,376.01 L509.68,377.39 L510.23,378.77 L510.78,380.16 L511.32,381.55 L511.86,382.93 L512.40,384.32 L512.93,385.72 L513.46,387.11 L513.99,388.50 L514.51,389.90 L515.03,391.30 L515.54,392.70 L516.06,394.10 L516.56,395.50 L517.07,396.90 L517.57,398.31 L518.07,399.71 L518.56,401.12 L519.05,402.53 L519.54,403.94 L520.02,405.35 L520.50,406.77 L520.98,408.18 L521.45,409.60 L521.93,411.01 L522.39,412.43 L522.86,413.85 L523.32,415.27 L523.77,416.69 L524.23,418.12 L524.68,419.54 L525.12,420.97 L525.57,422.39 L526.01,423.82 L526.45,425.25 L526.88,426.68 L527.31,428.11 L527.74,429.55 L528.17,430.98 L528.59,432.41 L529.01,433.85 L529.43,435.29 L529.84,436.73 L530.25,438.16 L530.66,439.60 L531.07,441.04 L531.47,442.49 L531.87,443.93 L532.27,445.37 L532.67,446.82 L533.06,448.26 L533.45,449.71 L533.84,451.16 L534.22,452.60 L534.60,454.05 L534.98,455.50 L535.36,456.95 L535.74,458.40 L536.11,459.86 L536.48,461.31 L536.86,462.76 L537.24,464.21 L537.62,465.66 L537.99,467.12 L538.36,468.57 L538.73,470.02 L539.09,471.48 L539.46,472.94 L539.82,474.39 L540.18,475.85 L540.54,477.31 L540.89,478.76 L541.25,480.22 L541.60,481.68 L541.95,483.14 L542.30,484.60 L542.65,486.06 L542.99,487.52 L543.33,488.99 L543.68,490.45 L544.02,491.91 L544.35,493.37 L544.69,494.84 L545.03,496.30 L545.36,497.77 L545.69,499.23 L546.02,500.69 L546.35,502.16 L546.68,503.63 L547.00,505.09 L547.33,506.56 L547.65,508.02 L547.98,509.49 L548.30,510.96 L548.62,512.42 L548.95,513.89 L549.27,515.35 L549.59,516.82 L549.91,518.29 L550.23,519.75 L550.54,521.22 L550.86,522.69 L551.17,524.15 L551.49,525.62 L551.80,527.09 L552.11,528.56 L552.42,530.02 L552.73,531.49 L553.04,532.96 L553.35,534.42 L553.66,535.89 L553.97,537.36 L554.27,538.82 L554.58,540.29 L554.88,541.76 L555.19,543.22 L555.49,544.69 L555.79,546.15 L556.10,547.62 L556.40,549.08 L556.70,550.55 L556.98,552.02 L557.27,553.48 L557.55,554.95 L557.84,556.42 L558.12,557.88 L558.41,559.35 L558.69,560.82 L558.98,562.28 L559.26,563.75 L559.54,565.21 L559.83,566.67 L560.11,568.14 L560.39,569.60 L560.68,571.06 L560.96,572.52 L561.24,573.99 L561.53,575.45 L561.81,576.91 L562.09,578.37 L562.38,579.82 L562.66,581.28 L562.95,582.74 L563.23,584.20 L563.52,585.65 L563.80,587.11 L564.09,588.57 L564.37,590.02 L564.66,591.47 L564.95,592.93" stroke="#0000ff" stroke-dasharray="3 3.96"/>
<path d="M877.00,132.35 L876.98,132.36 L875.59,132.96 L874.19,133.56 L872.80,134.16 L871.41,134.75 L870.02,135.34 L868.63,135.92 L867.24,136.50 L865.84,137.08 L864.45,137.66 L863.06,138.23 L861.68,138.81 L860.29,139.38 L858.90,139.95 L857.51,140.52 L856.13,141.09 L854.75,141.66 L853.36,142.24 L851.98,142.81 L850.60,143.39 L849.23,143.97 L847.85,144.55 L846.48,145.13 L845.11,145.72 L843.74,146.31 L842.37,146.90 L841.00,147.50 L839.64,148.10 L838.28,148.71 L836.92,149.33 L835.57,149.95 L834.22,150.57 L832.87,151.20 L831.53,151.84 L830.18,152.49 L828.85,153.14 L827.51,153.80 L826.19,154.46 L824.86,155.13 L823.55,155.81 L822.24,156.50 L820.93,157.19 L819.63,157.90 L818.34,158.61 L817.05,159.32 L815.77,160.05 L814.50,160.78 L813.24,161.53 L811.99,162.28 L810.74,163.04 L809.50,163.81 L808.28,164.59 L807.05,165.37 L805.83,166.17 L804.61,166.98 L803.39,167.80 L802.16,168.62 L800.93,169.45 L799.69,170.27 L798.44,171.10 L797.18,171.91 L795.91,172.73 L794.63,173.53 L793.33,174.32 L792.02,175.10 L790.71,175.86 L789.40,176.60 L788.09,177.33 L786.78,178.06 L785.47,178.78 L784.16,179.50 L782.85,180.21 L781.54,180.93 L780.22,181.65 L778.91,182.37 L777.60,183.09 L776.30,183.82 L775.00,184.55 L773.70,185.28 L772.41,186.02 L771.13,186.76 L769.85,187.51 L768.57,188.26 L767.30,189.03 L766.04,189.79 L764.77,190.57 L763.52,191.35 L762.27,192.13 L761.02,192.93 L759.78,193.73 L758.54,194.53 L757.30,195.34 L756.07,196.16 L754.85,196.98 L753.62,197.81 L752.41,198.65 L751.19,199.49 L749.98,200.33 L748.78,201.19 L747.57,202.04 L746.38,202.91 L745.18,203.78 L743.99,204.65 L742.81,205.53 L741.63,206.42 L740.45,207.31 L739.27,208.21 L738.10,209.11 L736.93,210.02 L735.77,210.93 L734.61,211.85 L733.45,212.77 L732.30,213.70 L731.15,214.63 L730.00,215.57 L728.86,216.51 L727.72,217.46 L726.58,218.41 L725.44,219.36 L724.31,220.32 L723.18,221.28 L722.05,222.25 L720.93,223.23 L719.81,224.20 L718.69,225.18 L717.58,226.17 L716.47,227.16 L715.36,228.15 L714.25,229.15 L713.14,230.15 L712.04,231.15 L710.94,232.16 L709.84,233.18 L708.75,234.19 L707.66,235.21 L706.57,236.23 L705.49,237.26 L704.40,238.29 L703.32,239.33 L702.25,240.36 L701.17,241.40 L700.10,242.45 L699.04,243.50 L697.98,244.55 L696.92,245.61 L695.86,246.66 L694.81,247.73 L693.76,248.79 L692.71,249.86 L691.67,250.94 L690.63,252.01 L689.60,253.09 L688.57,254.18 L687.54,255.27 L686.52,256.36 L685.50,257.45 L684.49,258.55 L683.48,259.65 L682.47,260.76 L681.47,261.87 L680.47,262.98 L679.48,264.10 L678.49,265.22 L677.51,266.34 L676.53,267.47 L675.55,268.60 L674.58,269.73 L673.62,270.87 L672.66,272.01 L671.70,273.16 L670.75,274.30 L669.80,275.45 L668.86,276.61 L667.92,277.77 L666.99,278.93 L666.07,280.10 L665.15,281.27 L664.23,282.44 L663.32,283.61 L662.41,284.79 L661.51,285.98 L660.62,287.16 L659.73,288.35 L658.85,289.55 L657.97,290.74 L657.10,291.95 L656.23,293.15 L655.37,294.36 L654.52,295.57 L653.67,296.78 L652.83,298.00 L651.99,299.22 L651.16,300.45 L650.34,301.67 L649.51,302.90 L648.70,304.14 L647.89,305.37 L647.08,306.61 L646.28,307.85 L645.49,309.10 L644.70,310.35 L643.92,311.60 L643.15,312.86 L642.38,314.12 L641.62,315.38 L640.87,316.65 L640.12,317.92 L639.38,319.19 L638.64,320.47 L637.91,321.75 L637.19,323.04 L636.47,324.32 L635.76,325.61 L635.05,326.91 L634.35,328.21 L633.65,329.51 L632.96,330.81 L632.28,332.12 L631.60,333.43 L630.93,334.75 L630.26,336.06 L629.60,337.38 L628.94,338.71 L628.29,340.03 L627.65,341.36 L627.01,342.70 L626.37,344.03 L625.74,345.37 L625.12,346.71 L624.50,348.05 L623.88,349.40 L623.27,350.75 L622.67,352.10 L622.07,353.46 L621.48,354.81 L620.89,356.17 L620.30,357.54 L619.72,358.90 L619.15,360.27 L618.58,361.64 L618.01,363.01 L617.45,364.39 L616.89,365.76 L616.34,367.14 L615.79,368.52 L615.25,369.91 L614.71,371.30 L614.17,372.68 L613.64,374.07 L613.12,375.47 L612.59,376.86 L612.08,378.26 L611.56,379.66 L611.05,381.06 L610.55,382.46 L610.05,383.87 L609.55,385.27 L609.06,386.68 L608.56,388.09 L608.06,389.50 L607.57,390.91 L607.08,392.32 L606.59,393.73 L606.11,395.15 L605.63,396.57 L605.15,397.98 L604.68,399.40 L604.21,400.83 L603.75,402.25 L603.28,403.67 L602.82,405.10 L602.37,406.53 L601.92,407.96 L601.47,409.39 L601.02,410.82 L600.58,412.25 L600.14,413.68 L599.70,415.12 L599.27,416.56 L598.84,417.99 L598.41,419.43 L597.98,420.87 L597.56,422.31 L597.14,423.75 L596.72,425.20 L596.31,426.64 L595.90,428.08 L595.49,429.53 L595.08,430.97 L594.67,432.42 L594.27,433.87 L593.87,435.32 L593.48,436.77 L593.08,438.21 L592.69,439.66 L592.30,441.12 L591.91,442.57 L591.52,444.02 L591.14,445.47 L590.76,446.92 L590.38,448.37 L590.00,449.83 L589.62,451.28 L589.25,452.73 L588.87,454.19 L588.50,455.64 L588.13,457.10 L587.77,458.55 L587.40,460.00 L587.03,461.46 L586.64,462.91 L586.26,464.36 L585.88,465.80 L585.51,467.25 L585.13,468.70 L584.76,470.15 L584.38,471.60 L584.01,473.05 L583.64,474.50 L583.27,475.95 L582.91,477.40 L582.54,478.85 L582.18,480.30 L581.81,481.75 L581.45,483.20 L581.09,484.65 L580.74,486.10 L580.38,487.56 L580.02,489.01 L579.67,490.46 L579.32,491.91 L578.97,493.36 L578.62,494.81 L578.27,496.27 L577.93,497.72 L577.58,499.17 L577.24,500.62 L576.89,502.08 L576.55,503.53 L576.21,504.99 L575.88,506.44 L575.54,507.89 L575.20,509.35 L574.86,510.80 L574.52,512.26 L574.19,513.71 L573.85,515.17 L573.51,516.62 L573.18,518.08 L572.85,519.54 L572.51,520.99 L572.18,522.45 L571.85,523.91 L571.53,525.37 L571.20,526.83 L570.87,528.29 L570.55,529.75 L570.23,531.21 L569.91,532.67 L569.59,534.13 L569.27,535.59 L568.95,537.06 L568.63,538.52 L568.32,539.98 L568.00,541.45 L567.69,542.91 L567.38,544.38 L567.07,545.85 L566.76,547.31 L566.45,548.78 L566.14,550.25 L565.85,551.72 L565.56,553.20 L565.27,554.67 L564.99,556.15 L564.70,557.62 L564.42,559.10 L564.13,560.57 L563.85,562.05 L563.57,563.53 L563.29,565.01 L563.01,566.49 L562.73,567.97 L562.45,569.45 L562.18,570.93 L561.90,572.42 L561.63,573.90 L561.36,575.39 L561.08,576.87 L560.81,578.36 L560.54,579.85 L560.28,581.33 L560.01,582.82 L559.74,584.31 L559.48,585.81 L559.21,587.30 L558.95,588.79 L558.68,590.29 L558.42,591.78 L558.16,593.28" stroke="#0000ff" stroke-dasharray="3 3.96"/>
<path d="M246.21,67.43 L247.53,68.10 L248.85,68.77 L250.17,69.44 L251.49,70.11 L252.81,70.79 L254.12,71.47 L255.44,72.15 L256.76,72.84 L258.07,73.53 L259.39,74.22 L260.70,74.91 L262.01,75.61 L263.33,76.30 L264.64,77.01 L265.95,77.71 L267.26,78.42 L268.57,79.13 L269.88,79.84 L271.19,80.55 L272.49,81.27 L273.80,81.99 L275.11,82.71 L276.41,83.44 L277.72,84.17 L279.02,84.90 L280.32,85.63 L281.62,86.37 L282.93,87.11 L284.23,87.85 L285.52,88.59 L286.82,89.34 L288.12,90.09 L289.41,90.84 L290.71,91.60 L292.00,92.36 L293.29,93.12 L294.59,93.88 L295.88,94.65 L297.17,95.41 L298.45,96.19 L299.74,96.96 L301.02,97.74 L302.31,98.52 L303.59,99.30 L304.87,100.08 L306.15,100.87 L307.43,101.66 L308.71,102.46 L309.99,103.25 L311.26,104.05 L312.54,104.85 L313.81,105.66 L315.08,106.46 L316.35,107.27 L317.62,108.09 L318.88,108.90 L320.15,109.72 L321.41,110.54 L322.67,111.37 L323.93,112.19 L325.19,113.02 L326.45,113.85 L327.70,114.69 L328.96,115.52 L330.21,116.36 L331.46,117.21 L332.71,118.05 L333.96,118.90 L335.20,119.75 L336.45,120.61 L337.69,121.46 L338.93,122.32 L340.16,123.19 L341.40,124.05 L342.64,124.92 L343.87,125.79 L345.10,126.66 L346.33,127.54 L347.55,128.42 L348.78,129.30 L350.00,130.18 L351.22,131.07 L352.44,131.96 L353.66,132.85 L354.87,133.75 L356.09,134.65 L357.30,135.55 L358.51,136.45 L359.71,137.36 L360.92,138.27 L362.12,139.18 L363.32,140.10 L364.52,141.02 L365.71,141.94 L366.90,142.86 L368.10,143.79 L369.28,144.72 L370.47,145.65 L371.65,146.58 L372.84,147.52 L374.02,148.46 L375.19,149.41 L376.37,150.35 L377.54,151.30 L378.71,152.25 L379.88,153.21 L381.04,154.17 L382.20,155.13 L383.36,156.09 L384.52,157.06 L385.67,158.03 L386.83,159.00 L387.98,159.97 L389.12,160.95 L390.27,161.93 L391.41,162.91 L392.55,163.90 L393.68,164.89 L394.82,165.88 L395.95,166.87 L397.08,167.87 L398.20,168.87 L399.32,169.88 L400.44,170.88 L401.56,171.89 L402.67,172.90 L403.78,173.92 L404.89,174.93 L406.00,175.95 L407.10,176.98 L408.20,178.00 L409.30,179.03 L410.39,180.06 L411.48,181.10 L412.57,182.14 L413.65,183.18 L414.73,184.22 L415.81,185.27 L416.89,186.32 L417.96,187.37 L419.03,188.42 L420.09,189.48 L421.16,190.54 L422.22,191.60 L423.27,192.67 L424.32,193.74 L425.37,194.81 L426.42,195.89 L427.46,196.96 L428.50,198.05 L429.54,199.13 L430.57,200.22 L431.60,201.31 L432.63,202.40 L433.65,203.49 L434.67,204.59 L435.69,205.69 L436.70,206.80 L437.71,207.90 L438.71,209.01 L439.71,210.13 L440.71,211.24 L441.71,212.36 L442.70,213.48 L443.69,214.61 L444.67,215.74 L445.65,216.87 L446.63,218.00 L447.60,219.14 L448.57,220.27 L449.54,221.42 L450.50,222.56 L451.46,223.71 L452.41,224.86 L453.36,226.01 L454.31,227.17 L455.25,228.33 L456.19,229.49 L457.12,230.66 L458.05,231.83 L458.98,233.00 L459.91,234.17 L460.82,235.35 L461.74,236.53 L462.65,237.72 L463.56,238.90 L464.46,240.09 L465.36,241.28 L466.26,242.48 L467.15,243.68 L468.03,244.88 L468.92,246.08 L469.80,247.29 L470.67,248.50 L471.54,249.71 L472.41,250.93 L473.27,252.15 L474.13,253.37 L474.98,254.59 L475.83,255.82 L476.67,257.05 L477.52,258.29 L478.35,259.52 L479.18,260.76 L480.01,262.00 L480.84,263.25 L481.66,264.50 L482.47,265.75 L483.29,267.00 L484.09,268.26 L484.90,269.51 L485.70,270.78 L486.49,272.04 L487.29,273.31 L488.07,274.58 L488.86,275.85 L489.64,277.12 L490.41,278.40 L491.19,279.68 L491.95,280.96 L492.72,282.25 L493.48,283.53 L494.23,284.82 L494.99,286.12 L495.73,287.41 L496.48,288.71 L497.22,290.01 L497.96,291.31 L498.69,292.61 L499.42,293.92 L500.14,295.23 L500.87,296.54 L501.58,297.85 L502.30,299.17 L503.01,300.49 L503.71,301.81 L504.42,303.13 L505.11,304.46 L505.81,305.78 L506.50,307.11 L507.19,308.44 L507.87,309.78 L508.55,311.11 L509.23,312.45 L509.90,313.79 L510.57,315.13 L511.24,316.48 L511.90,317.82 L512.56,319.17 L513.21,320.52 L513.86,321.87 L514.51,323.23 L515.15,324.58 L515.79,325.94 L516.43,327.30 L517.06,328.66 L517.69,330.03 L518.32,331.39 L518.94,332.76 L519.56,334.13 L520.18,335.50 L520.79,336.87 L521.40,338.25 L522.00,339.62 L522.60,341.00 L523.20,342.38 L523.80,343.76 L524.39,345.14 L524.98,346.53 L525.56,347.91 L526.14,349.30 L526.72,350.69 L527.29,352.08 L527.87,353.48 L528.43,354.87 L529.00,356.26 L529.56,357.66 L530.12,359.06 L530.67,360.46 L531.22,361.86 L531.77,363.27 L532.32,364.67 L532.86,366.08 L533.40,367.48 L533.93,368.89 L534.46,370.30 L534.99,371.71 L535.52,373.12 L536.04,374.54 L536.56,375.95 L537.08,377.37 L537.59,378.79 L538.10,380.21 L538.60,381.63 L539.11,383.05 L539.61,384.47 L540.11,385.89 L540.60,387.32 L541.09,388.74 L541.58,390.17 L542.07,391.60 L542.55,393.03 L543.03,394.46 L543.50,395.89 L543.98,397.32 L544.45,398.75 L544.91,400.19 L545.38,401.62 L545.84,403.06 L546.30,404.49 L546.75,405.93 L547.21,407.37 L547.66,408.81 L548.10,410.25 L548.55,411.69 L548.99,413.13 L549.43,414.57 L549.86,416.01 L550.29,417.46 L550.72,418.90 L551.15,420.35 L551.58,421.79 L552.00,423.24 L552.42,424.69 L552.83,426.14 L553.25,427.59 L553.66,429.03 L554.07,430.48 L554.47,431.93 L554.88,433.39 L555.28,434.84 L555.68,436.29 L556.07,437.74 L556.47,439.19 L556.86,440.65 L557.25,442.10 L557.63,443.56 L558.02,445.01 L558.40,446.47 L558.78,447.92 L559.16,449.38 L559.53,450.84 L559.91,452.29 L560.28,453.75 L560.65,455.21 L561.01,456.67 L561.38,458.13 L561.74,459.58 L562.10,461.04 L562.46,462.50 L562.82,463.96 L563.18,465.42 L563.53,466.88 L563.88,468.34 L564.23,469.80 L564.58,471.26 L564.93,472.72 L565.27,474.18 L565.61,475.65 L565.95,477.11 L566.29,478.57 L566.63,480.03 L566.97,481.49 L567.30,482.95 L567.64,484.41 L567.97,485.87 L568.30,487.34 L568.63,488.80 L568.95,490.26 L569.28,491.72 L569.60,493.18 L569.93,494.64 L570.25,496.10 L570.57,497.57 L570.89,499.03 L571.21,500.49 L571.52,501.95 L571.84,503.41 L572.15,504.87 L572.46,506.33 L572.78,507.79 L573.09,509.25 L573.40,510.71 L573.71,512.17 L574.01,513.63 L574.32,515.09 L574.63,516.54 L574.93,518.00 L575.23,519.46 L575.54,520.92 L575.84,522.37 L576.14,523.83 L576.44,525.29 L576.74,526.74 L577.04,528.20 L577.34,529.65 L577.64,531.11 L577.93,532.56 L578.23,534.02 L578.53,535.47 L578.82,536.92 L579.11,538.37 L579.41,539.82 L579.70,541.28" stroke="#daa520" stroke-dasharray="4.6 3.7 1.5 4.07"/>
<path d="M877.17,93.52 L875.76,94.02 L874.36,94.53 L872.95,95.04 L871.55,95.55 L870.14,96.06 L868.74,96.58 L867.34,97.10 L865.94,97.63 L864.54,98.15 L863.13,98.68 L861.74,99.21 L860.34,99.74 L858.94,100.28 L857.54,100.82 L856.14,101.36 L854.75,101.91 L853.35,102.46 L851.96,103.01 L850.56,103.56 L849.17,104.12 L847.78,104.68 L846.39,105.24 L845.00,105.81 L843.61,106.38 L842.22,106.95 L840.84,107.53 L839.45,108.11 L838.07,108.69 L836.69,109.27 L835.31,109.86 L833.92,110.46 L832.55,111.05 L831.17,111.65 L829.79,112.25 L828.42,112.86 L827.04,113.47 L825.67,114.08 L824.30,114.69 L822.93,115.31 L821.56,115.94 L820.20,116.56 L818.83,117.19 L817.47,117.82 L816.11,118.46 L814.75,119.10 L813.39,119.75 L812.04,120.39 L810.68,121.05 L809.33,121.70 L807.98,122.36 L806.63,123.02 L805.28,123.69 L803.94,124.36 L802.60,125.04 L801.25,125.71 L799.92,126.40 L798.58,127.08 L797.24,127.77 L795.91,128.47 L794.58,129.17 L793.25,129.87 L791.92,130.57 L790.60,131.28 L789.28,132.00 L787.96,132.72 L786.64,133.44 L785.32,134.17 L784.01,134.90 L782.70,135.63 L781.39,136.37 L780.08,137.12 L778.78,137.87 L777.48,138.62 L776.18,139.38 L774.89,140.14 L773.59,140.90 L772.30,141.67 L771.01,142.45 L769.73,143.23 L768.45,144.01 L767.16,144.80 L765.89,145.59 L764.61,146.39 L763.34,147.19 L762.07,148.00 L760.80,148.81 L759.54,149.62 L758.28,150.44 L757.02,151.26 L755.77,152.09 L754.51,152.92 L753.26,153.76 L752.02,154.60 L750.77,155.44 L749.53,156.29 L748.29,157.14 L747.06,158.00 L745.82,158.86 L744.59,159.73 L743.37,160.60 L742.14,161.47 L740.92,162.35 L739.71,163.23 L738.49,164.12 L737.28,165.01 L736.07,165.90 L734.87,166.80 L733.67,167.71 L732.47,168.61 L731.27,169.52 L730.08,170.44 L728.89,171.36 L727.70,172.28 L726.52,173.21 L725.34,174.14 L724.16,175.08 L722.99,176.02 L721.82,176.96 L720.65,177.91 L719.49,178.86 L718.33,179.82 L717.18,180.77 L716.02,181.74 L714.87,182.71 L713.73,183.68 L712.58,184.65 L711.44,185.63 L710.31,186.61 L709.17,187.60 L708.05,188.59 L706.92,189.59 L705.80,190.59 L704.68,191.59 L703.56,192.59 L702.45,193.61 L701.35,194.62 L700.24,195.64 L699.14,196.66 L698.04,197.68 L696.95,198.71 L695.86,199.75 L694.78,200.78 L693.69,201.82 L692.62,202.87 L691.54,203.92 L690.47,204.97 L689.40,206.02 L688.34,207.08 L687.28,208.14 L686.22,209.21 L685.17,210.28 L684.12,211.35 L683.08,212.43 L682.04,213.51 L681.00,214.60 L679.97,215.69 L678.94,216.78 L677.92,217.87 L676.90,218.97 L675.88,220.07 L674.87,221.18 L673.86,222.29 L672.86,223.40 L671.86,224.52 L670.86,225.64 L669.87,226.76 L668.88,227.89 L667.90,229.02 L666.92,230.16 L665.94,231.29 L664.97,232.43 L664.00,233.58 L663.04,234.73 L662.08,235.88 L661.13,237.03 L660.18,238.19 L659.23,239.35 L658.29,240.52 L657.35,241.68 L656.42,242.86 L655.49,244.03 L654.57,245.21 L653.65,246.39 L652.73,247.58 L651.82,248.76 L650.92,249.96 L650.01,251.15 L649.12,252.35 L648.22,253.55 L647.34,254.76 L646.45,255.96 L645.57,257.17 L644.70,258.39 L643.83,259.61 L642.96,260.83 L642.10,262.05 L641.24,263.28 L640.39,264.51 L639.55,265.74 L638.70,266.98 L637.87,268.22 L637.03,269.46 L636.20,270.71 L635.38,271.95 L634.56,273.21 L633.75,274.46 L632.94,275.72 L632.13,276.98 L631.33,278.25 L630.54,279.51 L629.75,280.78 L628.97,282.06 L628.19,283.33 L627.41,284.61 L626.64,285.89 L625.87,287.18 L625.11,288.47 L624.36,289.76 L623.61,291.05 L622.86,292.35 L622.12,293.65 L621.39,294.95 L620.66,296.26 L619.93,297.57 L619.21,298.88 L618.50,300.19 L617.79,301.51 L617.08,302.83 L616.38,304.15 L615.69,305.48 L615.00,306.81 L614.31,308.14 L613.63,309.47 L612.96,310.81 L612.29,312.15 L611.62,313.49 L610.96,314.83 L610.30,316.18 L609.65,317.53 L609.00,318.88 L608.36,320.23 L607.72,321.59 L607.08,322.95 L606.45,324.31 L605.82,325.67 L605.20,327.03 L604.59,328.40 L603.97,329.77 L603.36,331.14 L602.76,332.51 L602.16,333.89 L601.56,335.27 L600.97,336.65 L600.38,338.03 L599.79,339.41 L599.21,340.80 L598.64,342.19 L598.06,343.58 L597.49,344.97 L596.93,346.36 L596.37,347.75 L595.81,349.15 L595.25,350.55 L594.70,351.95 L594.15,353.35 L593.61,354.75 L593.07,356.16 L592.53,357.56 L592.00,358.97 L591.47,360.38 L590.94,361.79 L590.42,363.20 L589.90,364.62 L589.38,366.03 L588.87,367.45 L588.36,368.87 L587.85,370.29 L587.35,371.71 L586.85,373.13 L586.35,374.55 L585.85,375.98 L585.36,377.40 L584.87,378.83 L584.39,380.25 L583.90,381.68 L583.42,383.11 L582.95,384.54 L582.47,385.97 L582.00,387.41 L581.53,388.84 L581.06,390.27 L580.60,391.71 L580.13,393.14 L579.67,394.58 L579.22,396.02 L578.76,397.45 L578.31,398.89 L577.86,400.33 L577.41,401.77 L576.97,403.21 L576.52,404.65 L576.08,406.10 L575.65,407.54 L575.21,408.98 L574.77,410.42 L574.34,411.87 L573.91,413.31 L573.48,414.75 L573.06,416.20 L572.63,417.64 L572.21,419.09 L571.79,420.53 L571.37,421.98 L570.95,423.43 L570.54,424.87 L570.12,426.32 L569.71,427.76 L569.30,429.21 L568.89,430.65 L568.48,432.10 L568.08,433.55 L567.67,434.99 L567.27,436.44 L566.87,437.89 L566.47,439.33 L566.07,440.78 L565.68,442.23 L565.28,443.68 L564.89,445.12 L564.50,446.57 L564.11,448.02 L563.72,449.47 L563.33,450.91 L562.95,452.36 L562.57,453.81 L562.19,455.26 L561.81,456.71 L561.43,458.16 L561.05,459.61 L560.68,461.06 L560.30,462.51 L559.93,463.96 L559.56,465.41 L559.19,466.86 L558.83,468.31 L558.46,469.76 L558.10,471.21 L557.74,472.66 L557.38,474.11 L557.02,475.57 L556.66,477.02 L556.31,478.47 L555.95,479.93 L555.60,481.38 L555.25,482.83 L554.90,484.29 L554.55,485.74 L554.21,487.20 L553.86,488.65 L553.52,490.11 L553.18,491.57 L552.84,493.02 L552.51,494.48 L552.17,495.94 L551.84,497.40 L551.50,498.85 L551.17,500.31 L550.84,501.77 L550.51,503.23 L550.19,504.69 L549.86,506.15 L549.54,507.61 L549.22,509.07 L548.90,510.54 L548.58,512.00 L548.27,513.46 L547.95,514.93 L547.64,516.39 L547.33,517.85 L547.02,519.32 L546.71,520.78 L546.40,522.25 L546.10,523.72 L545.79,525.18 L545.49,526.65 L545.19,528.12 L544.89,529.59 L544.60,531.06 L544.30,532.53 L544.01,534.00 L543.72,535.47 L543.42,536.94 L543.14,538.42 L542.85,539.89 L542.56,541.36" stroke="#daa520" stroke-dasharray="4.6 3.7 1.5 4.07"/>
<path d="M810.8,467.90 H900" stroke="#ff0000" stroke-dasharray="9 2.2 1.5 2.7"/>
<path d="M810.8,501.20 H900" stroke="#008000" stroke-dasharray="5.8 2.55"/>
<path d="M810.8,534.50 H900" stroke="#0000ff" stroke-dasharray="3 3.96"/>
<path d="M810.8,567.80 H900" stroke="#daa520" stroke-dasharray="4.6 3.7 1.5 4.07"/>
</g>
<path d="M183.70,593.2 v-9 M183.70,40.0 v9 M309.75,593.2 v-9 M309.75,40.0 v9 M435.80,593.2 v-9 M435.80,40.0 v9 M561.85,593.2 v-9 M561.85,40.0 v9 M687.90,593.2 v-9 M687.90,40.0 v9 M813.95,593.2 v-9 M813.95,40.0 v9 M940.00,593.2 v-9 M940.00,40.0 v9 M183.7,593.20 h9 M940.0,593.20 h-9 M183.7,514.17 h9 M940.0,514.17 h-9 M183.7,435.14 h9 M940.0,435.14 h-9 M183.7,356.11 h9 M940.0,356.11 h-9 M183.7,277.09 h9 M940.0,277.09 h-9 M183.7,198.06 h9 M940.0,198.06 h-9 M183.7,119.03 h9 M940.0,119.03 h-9 M183.7,40.00 h9 M940.0,40.00 h-9" stroke="#000" stroke-width="1.2" fill="none"/>
<rect x="183.7" y="40.0" width="756.30" height="553.20" fill="none" stroke="#000" stroke-width="1.8"/>
<g font-size="33.4px" fill="#000" opacity="0.999">
<text transform="translate(162.60,605.10) scale(1,1.03)" text-anchor="end">0</text>
<text transform="translate(162.60,526.07) scale(1,1.03)" text-anchor="end">0.05</text>
<text transform="translate(162.60,447.04) scale(1,1.03)" text-anchor="end">0.1</text>
<text transform="translate(162.60,368.01) scale(1,1.03)" text-anchor="end">0.15</text>
<text transform="translate(162.60,288.99) scale(1,1.03)" text-anchor="end">0.2</text>
<text transform="translate(162.60,209.96) scale(1,1.03)" text-anchor="end">0.25</text>
<text transform="translate(162.60,130.93) scale(1,1.03)" text-anchor="end">0.3</text>
<text transform="translate(162.60,51.90) scale(1,1.03)" text-anchor="end">0.35</text>
<text transform="translate(183.10,637.90) scale(1,1.03)" text-anchor="middle"><tspan dy="2.9" stroke="#000" stroke-width="0.45">−</tspan><tspan dy="-2.9">0.6</tspan></text>
<text transform="translate(309.15,637.90) scale(1,1.03)" text-anchor="middle"><tspan dy="2.9" stroke="#000" stroke-width="0.45">−</tspan><tspan dy="-2.9">0.4</tspan></text>
<text transform="translate(435.20,637.90) scale(1,1.03)" text-anchor="middle"><tspan dy="2.9" stroke="#000" stroke-width="0.45">−</tspan><tspan dy="-2.9">0.2</tspan></text>
<text transform="translate(566.15,637.90) scale(1,1.03)" text-anchor="middle">0</text>
<text transform="translate(692.20,637.90) scale(1,1.03)" text-anchor="middle">0.2</text>
<text transform="translate(818.25,637.90) scale(1,1.03)" text-anchor="middle">0.4</text>
<text transform="translate(944.30,637.90) scale(1,1.03)" text-anchor="middle">0.6</text>
<text transform="translate(791.30,478.40) scale(1,1.03)" text-anchor="end">LSUB∞(1)</text>
<text transform="translate(791.30,511.70) scale(1,1.03)" text-anchor="end">LSUB∞(2)</text>
<text transform="translate(791.30,545.00) scale(1,1.03)" text-anchor="end">LSUB∞(3)</text>
<text transform="translate(791.30,578.30) scale(1,1.03)" text-anchor="end">LSUB∞(4)</text>
<text transform="translate(562.20,687.80) scale(1,1.03)" text-anchor="middle">1/<tspan font-style="italic" font-size="38.4px">α</tspan></text>
<text transform="translate(38,316.4) rotate(-90) scale(1,1.03)" text-anchor="middle" font-style="italic">M</text>
<text transform="translate(529.50,96.10) scale(1,1.03)" text-anchor="start" fill="#008000">J<tspan font-size="27px" dy="9.4">2</tspan><tspan dy="-6.9" stroke="#008000" stroke-width="0.45">=+</tspan><tspan dy="-2.5">1</tspan></text>
<g font-family="Liberation Mono, monospace" font-size="28.8px" fill="#0000ff" stroke="#fff" stroke-width="0.55" paint-order="fill stroke">
<text transform="translate(201.6,177.6) scale(1.18,1.015)">DCS</text>
<text transform="translate(876.7,177.6) scale(1.18,1.015)">DN</text>
</g>
<path d="M203,159.5 h3 M203,176.8 h3 M239,158.6 v5.6 M257.9,158.6 v5.4 M245.5,172.2 v5.2 M878,159.5 h3 M878,176.8 h3 M897.6,159.5 h3.2 M897.8,176.8 h7.4 M909,159.5 h7" stroke="#0000ff" stroke-width="1.5" fill="none"/>
</g>
</svg>
</body></html>
